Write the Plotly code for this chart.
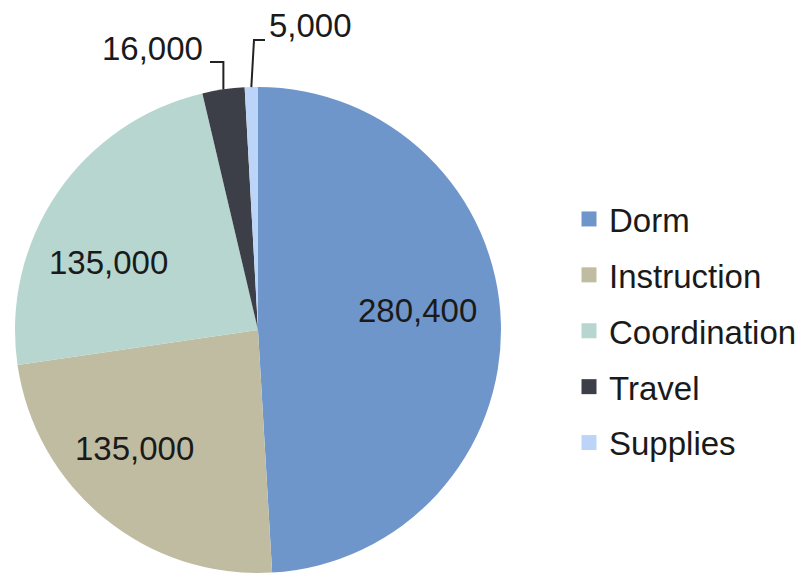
import math
import plotly.graph_objects as go

categories = ["Dorm", "Instruction", "Coordination", "Travel", "Supplies"]
values = [280400, 135000, 135000, 16000, 5000]
colors = ["#6f96cb", "#c0bca2", "#b6d6cf", "#3c3f47", "#bcd4f7"]

W, H = 811, 574
CX, CY, R = 258, 330, 243  # pie centre / radius in pixels


def px(x):
    return x / W


def py(y):
    return 1 - y / H


fig = go.Figure()
fig.add_trace(go.Pie(
    labels=categories,
    values=values,
    marker=dict(colors=colors, line=dict(width=0)),
    sort=False,
    direction="clockwise",
    rotation=0,
    textinfo="none",
    hoverinfo="label+value",
    showlegend=False,
    domain=dict(x=[px(CX - R), px(CX + R)], y=[py(CY + R), py(CY - R)]),
))

# legend via dummy traces
for name, col in zip(categories, colors):
    fig.add_trace(go.Scatter(
        x=[None], y=[None], mode="markers", name=name, legendgroup=name,
        marker=dict(symbol="square", size=15, color=col),
    ))

font = "Liberation Sans, Arial, Helvetica, sans-serif"
txt = [f"{v:,}" for v in values]

# inside labels
inside_pos = {0: (417, 310), 1: (134, 448), 2: (108, 262)}
annotations = []
for i, (x, y) in inside_pos.items():
    annotations.append(dict(
        x=px(x), y=py(y), xref="paper", yref="paper", text=txt[i],
        showarrow=False, font=dict(family=font, size=33, color="#1a1a1a"),
        xanchor="center", yanchor="middle",
    ))

# outside labels with elbow leader lines, starting at slice mid-angle on edge
total = sum(values)
cum = 0
mids = []
for v in values:
    mids.append((cum + v / 2) / total * 2 * math.pi)
    cum += v

shapes = []
# Travel (index 3)
a = mids[3]
ex, ey = CX + R * math.sin(a), CY - R * math.cos(a)
shapes.append(dict(type="path", xref="paper", yref="paper",
                   path=f"M {px(ex)},{py(ey)} L {px(ex)},{py(62)} L {px(210)},{py(62)}",
                   line=dict(color="#222222", width=2)))
annotations.append(dict(x=px(205), y=py(49), xref="paper", yref="paper", text=txt[3],
                        showarrow=False, xanchor="right", yanchor="middle",
                        font=dict(family=font, size=33, color="#1a1a1a")))
# Supplies (index 4)
a = mids[4]
ex, ey = CX + R * math.sin(a), CY - R * math.cos(a)
shapes.append(dict(type="path", xref="paper", yref="paper",
                   path=f"M {px(ex)},{py(ey)} L {px(254)},{py(40)} L {px(265)},{py(40)}",
                   line=dict(color="#222222", width=2)))
annotations.append(dict(x=px(267), y=py(26), xref="paper", yref="paper", text=txt[4],
                        showarrow=False, xanchor="left", yanchor="middle",
                        font=dict(family=font, size=33, color="#1a1a1a")))

fig.update_layout(
    width=W, height=H,
    margin=dict(l=0, r=0, t=0, b=0),
    paper_bgcolor="white", plot_bgcolor="white",
    xaxis=dict(visible=False, domain=[0.9, 0.91]),
    yaxis=dict(visible=False, domain=[0.9, 0.91]),
    showlegend=True,
    legend=dict(
        x=px(569), y=py(191), xanchor="left", yanchor="top",
        font=dict(family=font, size=33, color="#1a1a1a"),
        tracegroupgap=10, itemwidth=30, bgcolor="rgba(0,0,0,0)",
    ),
    annotations=annotations,
    shapes=shapes,
)

fig.write_html(
    "out.html",
    config={"displayModeBar": False},
    post_script="document.body.style.margin='0';document.body.style.overflow='hidden';",
)
